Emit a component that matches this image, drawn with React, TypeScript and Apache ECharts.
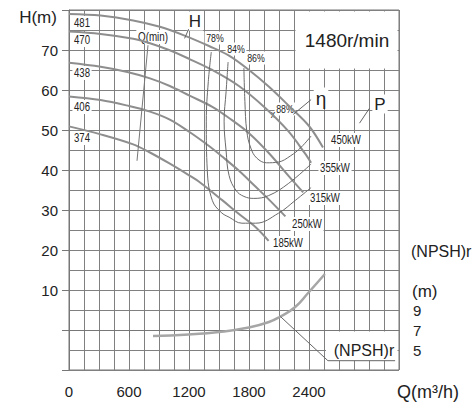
import { useEffect, useRef } from 'react';
import * as echarts from 'echarts';

// ---- data (Q in m3/h, H in m, NPSH in m) ----
const qLabels = [0, 600, 1200, 1800, 2400];
const hLabels = [10, 20, 30, 40, 50, 60, 70];
const npshLabels = [5, 7, 9];

const diameters = ['481', '470', '438', '406', '374'];
const motorPowers = ['450kW', '355kW', '315kW', '250kW', '185kW'];
const effLevels = ['78%', '84%', '86%', '88%'];

const head481 = [[0, 79.0], [316, 78.6], [642, 77.4], [909, 75.8], [1156, 73.6], [1400, 71.0], [1600, 68.6], [1800, 65.0], [2000, 60.8], [2200, 56.0], [2400, 51.0], [2540, 45.6]];
const head470 = [[0, 74.6], [316, 74.0], [642, 72.8], [810, 71.7], [1000, 70.0], [1200, 67.8], [1433, 65.0], [1699, 61.0], [1963, 55.5], [2193, 49.7], [2358, 44.2], [2421, 41.8]];
const head438 = [[0, 66.8], [316, 65.8], [583, 64.5], [810, 62.9], [1008, 61.0], [1205, 58.6], [1433, 55.8], [1600, 53.0], [1800, 49.2], [2000, 44.2], [2193, 38.6], [2342, 34.4]];
const head406 = [[0, 58.4], [316, 57.5], [600, 56.0], [810, 54.6], [1008, 52.6], [1205, 49.5], [1400, 46.0], [1535, 43.3], [1700, 39.8], [1867, 35.8], [2000, 32.6], [2164, 28.4]];
const head374 = [[0, 50.9], [316, 48.9], [642, 46.4], [800, 44.5], [1000, 41.7], [1205, 38.6], [1304, 37.0], [1535, 32.4], [1700, 29.0], [1867, 25.7], [1996, 22.3]];

const eff78 = [[1423, 69.5], [1393, 62.1], [1373, 52.2], [1383, 39.8], [1433, 32.4], [1522, 29.4], [1601, 28.2], [1729, 26.7], [1867, 26.7], [2095, 29.2], [2263, 32.4], [2421, 35.6]];
const eff84 = [[1591, 67.0], [1571, 59.6], [1551, 52.2], [1571, 44.8], [1601, 38.6], [1670, 34.9], [1749, 33.4], [1848, 32.9], [1996, 33.6], [2193, 36.6], [2421, 41.5]];
const eff86 = [[1749, 65.5], [1759, 57.1], [1778, 49.7], [1818, 45.5], [1877, 43.0], [1976, 41.8], [2095, 42.0], [2213, 43.5], [2322, 45.7], [2421, 48.5]];

const npshCurve = [[840, 6.4], [1196, 6.55], [1502, 6.8], [1798, 7.25], [2000, 7.8], [2114, 8.35], [2262, 9.3], [2391, 10.7], [2559, 12.6]];
const qMinLine = [[790, 71.2], [680, 42.3]];

// leader lines (data coordinates)
const leaderH = [[1156, 72.9], [1196, 75.2]];
const leaderEta = [[2243, 53.9], [2421, 57.6]];
const leaderP = [[2905, 51.7], [3004, 55.4]];
const leaderNpsh = [[2114, 8.35], [2589, 3.93], [3261, 3.93]];

const FONT = '"Liberation Sans", Arial, Helvetica, sans-serif';

export default function App() {
  const ref = useRef<HTMLDivElement>(null);
  useEffect(() => {
    const chart = echarts.init(ref.current!, null, { renderer: 'svg' });
    const gridColor = '#808080';
    const line = (data: number[][], color: string, width: number, yIdx = 0, smooth: number | boolean = 0.35) => ({
      type: 'line', data, xAxisIndex: 0, yAxisIndex: yIdx, smooth, symbol: 'none', showSymbol: false,
      lineStyle: { color, width }, silent: true, z: 2,
    });
    const series: any[] = [
      ...[head481, head470, head438, head406, head374].map((d) => line(d, '#8e8e8e', 2)),
      ...[eff78, eff84, eff86].map((d) => line(d, '#6a6a6a', 1, 0, 0.4)),
      line(npshCurve, '#a6a6a6', 2.5, 1, 0.5),
      line(qMinLine, '#777', 1, 0, false),
      line(leaderH, '#666', 1, 0, false),
      line(leaderEta, '#666', 1, 0, false),
      line(leaderP, '#666', 1, 0, false),
      line(leaderNpsh, '#666', 1, 1, false),
    ];
    chart.setOption({
      animation: false,
      grid: { left: 69, top: 10, width: 330, height: 360, show: true, borderColor: '#777', borderWidth: 1, backgroundColor: 'transparent' },
      xAxis: [
        {
          type: 'value', min: 0, max: 3300, interval: 150, position: 'bottom',
          axisLine: { show: true, lineStyle: { color: '#777' } },
          axisTick: { show: false }, axisLabel: { show: false },
          splitLine: { show: true, lineStyle: { color: gridColor, width: 1 } },
        },
        {
          type: 'value', min: 0, max: 3300, interval: 600, position: 'bottom', offset: 0,
          axisLine: { show: false },
          axisTick: { show: true, length: 7, customValues: qLabels, lineStyle: { color: '#777' } },
          axisLabel: {
            show: true, margin: 14, color: '#222', fontSize: 15, fontFamily: FONT,
            customValues: qLabels,
            formatter: (v: number) => (qLabels.includes(v) ? String(v) : ''),
          },
          splitLine: { show: false },
        },
      ],
      yAxis: [
        {
          type: 'value', min: -10, max: 80, interval: 5, position: 'left',
          axisLine: { show: true, lineStyle: { color: '#777' } },
          axisTick: { show: false },
          axisLabel: {
            show: true, margin: 11, color: '#222', fontSize: 15, fontFamily: FONT,
            formatter: (v: number) => (hLabels.includes(v) ? String(v) : ''),
          },
          splitLine: { show: true, lineStyle: { color: gridColor, width: 1 } },
        },
        {
          type: 'value', min: 3, max: 39, interval: 1, position: 'right',
          axisLine: { show: false }, axisTick: { show: false }, splitLine: { show: false },
          axisLabel: {
            show: true, margin: 14, color: '#222', fontSize: 15, fontFamily: FONT,
            formatter: (v: number) => (npshLabels.includes(v) ? String(v) : ''),
          },
        },
        {
          type: 'value', min: -10, max: 80, interval: 10, position: 'left', offset: 0,
          axisLine: { show: false },
          axisTick: { show: true, length: 7, lineStyle: { color: '#777' } },
          axisLabel: { show: false }, splitLine: { show: false },
        },
      ],
      series,
    });

    const px = (q: number, h: number) => chart.convertToPixel({ xAxisIndex: 0, yAxisIndex: 0 }, [q, h]) as number[];
    const txt = (text: string, x: number, y: number, size: number, o: any = {}) => ({
      type: 'text', x, y, z: 1, scaleX: o.sx ?? 1, silent: true,
      style: {
        text, font: `${size}px ${FONT}`, fill: o.fill ?? '#222',
        align: o.align ?? 'center', verticalAlign: 'middle',
        backgroundColor: o.bg ? '#fff' : 'transparent', padding: o.bg ? [1, 2, 1, 2] : 0,
      },
    });
    const a = px(2250, 80);
    const b = px(3300, 65);
    const c = px(2570, 0);
    const d = px(3300, -7.67);
    const narrow = 0.8;
    const diamY = [23, 40, 73, 107, 138];
    const kwPos = [[346, 140], [335, 168], [325, 198], [307, 224], [288, 243]];
    const effPos = [[215, 38], [236, 49], [256, 58], [285, 109]];
    const graphic: any[] = [
      { type: 'rect', z: 1, silent: true, shape: { x: a[0] + 1.5, y: a[1] + 1.5, width: b[0] - a[0] - 3, height: b[1] - a[1] - 3 }, style: { fill: '#fff' } },
      { type: 'rect', z: 1, silent: true, shape: { x: c[0], y: c[1] + 1.5, width: d[0] - c[0] - 1.5, height: d[1] - c[1] - 1.5 }, style: { fill: '#fff' } },
      txt('1480r/min', 347, 40, 19),
      txt('H(m)', 38, 17, 17),
      txt('Q(m³/h)', 428, 392, 18),
      txt('(NPSH)r', 411, 251, 16, { align: 'left' }),
      txt('(m)', 412, 291, 17, { align: 'left' }),
      txt('(NPSH)r', 364, 350, 16),
      ...diameters.map((s, i) => txt(s, 82, diamY[i], 12, { bg: true, sx: narrow })),
      ...motorPowers.map((s, i) => txt(s, kwPos[i][0], kwPos[i][1], 12, { bg: true, sx: narrow })),
      ...effLevels.map((s, i) => txt(s, effPos[i][0], effPos[i][1], 11, { bg: true, sx: narrow })),
      txt('x', 273, 114, 11, { sx: narrow }),
      txt('Q(min)', 153, 37, 12, { bg: true, sx: 0.82 }),
      txt('H', 195, 21, 17, { bg: true }),
      txt('η', 321, 98, 19, { bg: true }),
      txt('P', 380, 104, 17, { bg: true }),
    ];
    chart.setOption({ graphic });
    return () => chart.dispose();
  }, []);
  return <div ref={ref} style={{ position: 'absolute', left: 0, top: 0, width: 475, height: 404 }} />;
}
